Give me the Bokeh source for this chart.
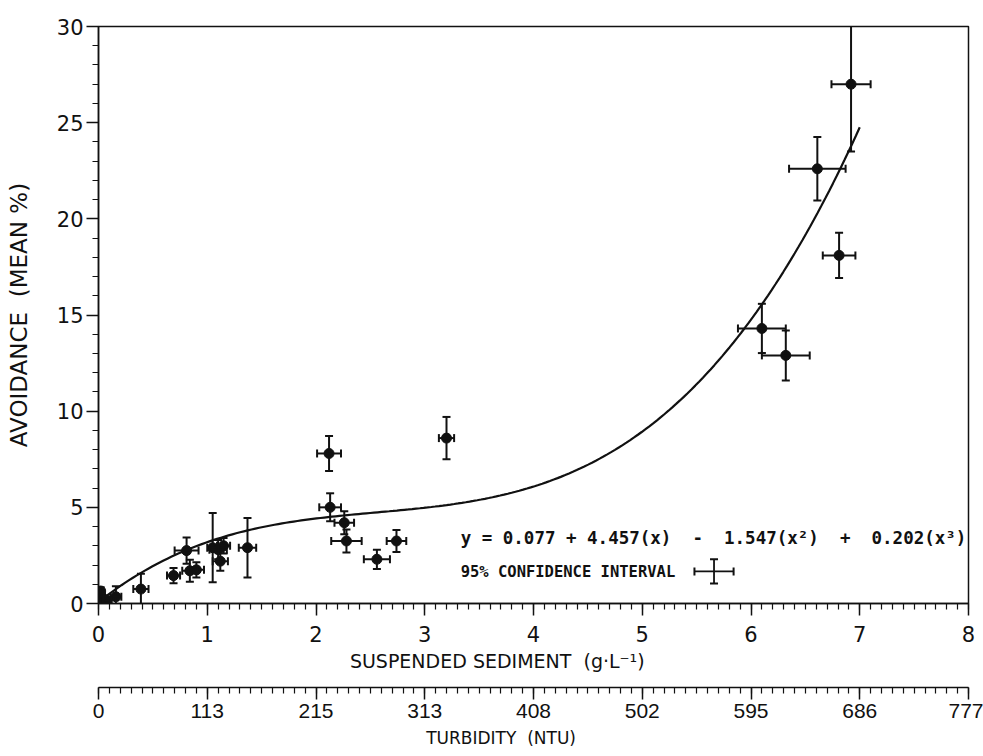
from bokeh.plotting import figure
from bokeh.models import (Range1d, LinearAxis, SingleIntervalTicker, FixedTicker, Whisker,
                          ColumnDataSource, Label, TeeHead)
from bokeh.embed import file_html
from bokeh.resources import INLINE
import numpy as np

# ---------------- data ----------------
sediment = [6.92, 6.61, 6.81, 6.10, 6.32, 2.12, 3.20, 2.13, 2.26, 2.28, 2.56, 2.74,
            1.37, 1.05, 1.10, 1.15, 1.12, 0.81, 0.84, 0.90, 0.69, 0.39, 0.16, 0.08,
            0.02, 0.02, 0.03]
avoidance = [27.0, 22.6, 18.1, 14.3, 12.9, 7.8, 8.6, 5.0, 4.2, 3.25, 2.3, 3.25,
             2.9, 2.9, 2.8, 3.0, 2.2, 2.75, 1.7, 1.75, 1.45, 0.75, 0.35, 0.15,
             0.65, 0.05, 0.35]
sed_ci = [0.18, 0.26, 0.15, 0.22, 0.22, 0.11, 0.07, 0.10, 0.09, 0.14, 0.12, 0.09,
          0.08, 0.05, 0.08, 0.06, 0.07, 0.11, 0.07, 0.07, 0.06, 0.07, 0.05, 0.04,
          0.02, 0.02, 0.02]
avoid_ci = [3.5, 1.65, 1.17, 1.28, 1.3, 0.91, 1.1, 0.73, 0.6, 0.6, 0.5, 0.57,
            1.55, 1.8, 0.5, 0.4, 0.5, 0.68, 0.57, 0.4, 0.4, 0.8, 0.55, 0.2,
            0.2, 0.15, 0.2]
# regression: y = b0 + b1 x + b2 x^2 + b3 x^3
coef = [0.077, 4.457, -1.547, 0.202]
fit_x_max = 7.0
sed_ticks = [0, 1, 2, 3, 4, 5, 6, 7, 8]
turbidity_labels = ["0", "113", "215", "313", "408", "502", "595", "686", "777"]
NB = "\u00a0"
equation_text = ("y = 0.077 + 4.457(x)" + NB * 2 + "-" + NB * 2 + "1.547(x\u00b2)"
                 + NB * 2 + "+" + NB * 2 + "0.202(x\u00b3)")
ci_text = "95% CONFIDENCE INTERVAL"
x_title = "SUSPENDED SEDIMENT" + NB * 2 + "(g\u00b7L\u207b\u00b9)"
y_title = "AVOIDANCE" + NB * 2 + "(MEAN %)"
t_title = "TURBIDITY" + NB * 2 + "(NTU)"

# ---------------- layout constants ----------------
legend_x = 3.33
eq_y = 3.39
ci_y = 1.62
cross_x, cross_y, cross_dx, cross_dy = 5.66, 1.67, 0.18, 0.63
title_pad = NB * 12   # pushes the centred bottom titles a little to the left

INK = "#111111"
FONT = "DejaVu Sans"

p = figure(width=983, height=756, x_range=Range1d(0, 8), y_range=Range1d(0, 30),
           output_backend="svg", toolbar_location=None,
           min_border_left=98, min_border_right=15, min_border_top=26,
           min_border_bottom=153)
p.grid.visible = False
p.outline_line_color = INK
p.outline_line_width = 1.5
p.background_fill_color = "white"
p.border_fill_color = "white"

# primary x axis
xa = p.xaxis[0]
xa.ticker = SingleIntervalTicker(interval=1, num_minor_ticks=10)
xa.axis_label = x_title + title_pad
ya = p.yaxis[0]
ya.ticker = SingleIntervalTicker(interval=5, num_minor_ticks=5)
ya.axis_label = y_title


def style_axis(ax, label_font=FONT):
    ax.axis_line_color = INK
    ax.axis_line_width = 1.5
    ax.major_tick_line_color = INK
    ax.minor_tick_line_color = INK
    ax.major_tick_line_width = 1.5
    ax.minor_tick_line_width = 1.2
    ax.major_tick_in = 0
    ax.major_tick_out = 12
    ax.minor_tick_in = 0
    ax.minor_tick_out = 6
    ax.major_label_text_font = label_font
    ax.major_label_text_font_size = "21px"
    ax.major_label_text_color = INK
    ax.axis_label_text_font = FONT
    ax.axis_label_text_font_style = "normal"
    ax.axis_label_text_color = INK


style_axis(xa)
style_axis(ya)
xa.axis_label_text_font_size = "19px"
ya.axis_label_text_font_size = "23px"
xa.major_label_standoff = 10
xa.axis_label_standoff = 5
ya.major_label_standoff = 3
ya.axis_label_standoff = 22

# spacer between the two bottom axes
spacer = LinearAxis(ticker=FixedTicker(ticks=[4]), major_label_overrides={4: NB},
                    axis_line_color=None,
                    major_tick_line_color=None, minor_tick_line_color=None,
                    major_tick_in=0, major_tick_out=0, minor_tick_in=0, minor_tick_out=0,
                    major_label_standoff=0, major_label_text_font_size="9px")
p.add_layout(spacer, "below")

# secondary (turbidity) axis
ta = LinearAxis(ticker=SingleIntervalTicker(interval=1, num_minor_ticks=10),
                major_label_overrides={t: l for t, l in zip(sed_ticks, turbidity_labels)},
                axis_label=t_title + NB * 12)
style_axis(ta, label_font="Liberation Sans")
ta.major_label_standoff = 4
ta.axis_label_text_font_size = "17px"
ta.axis_label_standoff = 7
p.add_layout(ta, "below")

# fitted curve
xc = np.linspace(0, fit_x_max, 200)
yc = sum(c * xc ** i for i, c in enumerate(coef))
p.line(xc, yc, line_width=2.2, color=INK)

# points with confidence intervals
src = ColumnDataSource(dict(
    x=sediment, y=avoidance,
    xlo=[a - b for a, b in zip(sediment, sed_ci)],
    xhi=[a + b for a, b in zip(sediment, sed_ci)],
    ylo=[a - b for a, b in zip(avoidance, avoid_ci)],
    yhi=[a + b for a, b in zip(avoidance, avoid_ci)],
))


def head():
    return TeeHead(size=8, line_width=2, line_color=INK)


p.add_layout(Whisker(source=src, base="x", lower="ylo", upper="yhi", dimension="height",
                     line_width=2, line_color=INK, upper_head=head(), lower_head=head(),
                     level="glyph"))
p.add_layout(Whisker(source=src, base="y", lower="xlo", upper="xhi", dimension="width",
                     line_width=2, line_color=INK, upper_head=head(), lower_head=head(),
                     level="glyph"))
p.scatter("x", "y", source=src, size=10, color=INK)

# legend / equation
p.add_layout(Label(x=legend_x, y=eq_y, text=equation_text, text_font="DejaVu Sans Mono",
                   text_font_style="bold", text_font_size="17.5px", text_color=INK,
                   text_baseline="middle"))
p.add_layout(Label(x=legend_x, y=ci_y, text=ci_text, text_font="DejaVu Sans Mono",
                   text_font_style="bold", text_font_size="15.5px", text_color=INK,
                   text_baseline="middle"))
leg = ColumnDataSource(dict(x=[cross_x], y=[cross_y],
                            xlo=[cross_x - cross_dx], xhi=[cross_x + cross_dx],
                            ylo=[cross_y - cross_dy], yhi=[cross_y + cross_dy]))
p.add_layout(Whisker(source=leg, base="x", lower="ylo", upper="yhi", dimension="height",
                     line_width=1.8, line_color=INK, upper_head=head(), lower_head=head()))
p.add_layout(Whisker(source=leg, base="y", lower="xlo", upper="xhi", dimension="width",
                     line_width=1.8, line_color=INK, upper_head=head(), lower_head=head()))

open("out.html", "w").write(file_html(p, INLINE))
